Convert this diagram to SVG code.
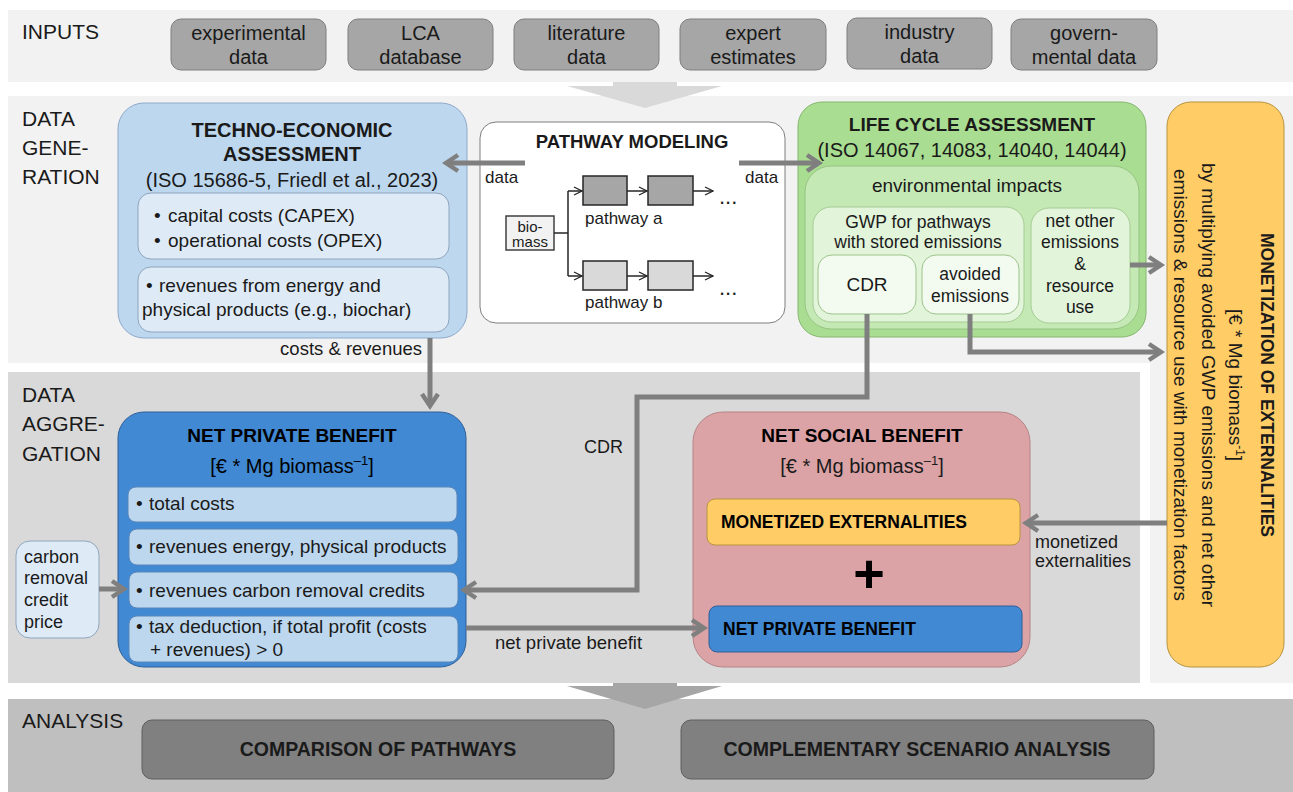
<svg xmlns="http://www.w3.org/2000/svg" width="1293" height="792" viewBox="0 0 1293 792">
<style>
text{font-family:"Liberation Sans",Arial,sans-serif;fill:#1a1a1a}
.sec{font-size:21px}
.inp{font-size:20px;text-anchor:middle}
.b{font-weight:bold}
.c{text-anchor:middle}
.conn{fill:none;stroke:#7f7f7f;stroke-width:5}
.thin{fill:none;stroke:#262626;stroke-width:1.5}
.ibox{fill:#a6a6a6;stroke:#7f7f7f;stroke-width:1}
.lbl{font-size:18px}
</style>
<defs>
<marker id="ah" viewBox="0 0 20 20" refX="14" refY="10" markerWidth="20" markerHeight="20" markerUnits="userSpaceOnUse" orient="auto">
<path d="M3,2 L15,10 L3,18" fill="none" stroke="#7f7f7f" stroke-width="4.5"/>
</marker>
<marker id="sm" viewBox="0 0 10 10" refX="9" refY="5" markerWidth="10" markerHeight="10" markerUnits="userSpaceOnUse" orient="auto">
<path d="M1,1 L9,5 L1,9" fill="none" stroke="#262626" stroke-width="1.3"/>
</marker>
</defs>

<g id="bands">
<rect x="8" y="10" width="1285" height="72" fill="#f2f2f2"/>
<rect x="8" y="96" width="1285" height="267" fill="#f2f2f2"/>
<rect x="1150" y="96" width="143" height="587" fill="#f2f2f2"/>
<rect x="8" y="372" width="1132" height="311" fill="#d9d9d9"/>
<rect x="8" y="699" width="1285" height="93" fill="#bfbfbf"/>
<polygon points="613,82 677,82 677,86 722,86 645,108 567,86 613,86" fill="#d9d9d9"/>
<polygon points="613,683 677,683 677,686 722,686 645,709 567,686 613,686" fill="#a6a6a6"/>
<text class="sec" x="22" y="39">INPUTS</text>
<text class="sec" x="22" y="126">DATA</text>
<text class="sec" x="22" y="155">GENE-</text>
<text class="sec" x="22" y="184">RATION</text>
<text class="sec" x="22" y="402">DATA</text>
<text class="sec" x="22" y="431">AGGRE-</text>
<text class="sec" x="22" y="461">GATION</text>
<text class="sec" x="22" y="728">ANALYSIS</text>
</g>

<g id="input-experimental">
<rect class="ibox" x="171" y="19" width="155" height="51" rx="10"/>
<text class="inp" x="248.5" y="40">experimental</text>
<text class="inp" x="248.5" y="64">data</text>
</g>
<g id="input-lca">
<rect class="ibox" x="348" y="19" width="145" height="51" rx="10"/>
<text class="inp" x="420.5" y="40">LCA</text>
<text class="inp" x="420.5" y="64">database</text>
</g>
<g id="input-literature">
<rect class="ibox" x="514" y="19" width="145" height="51" rx="10"/>
<text class="inp" x="586.5" y="40">literature</text>
<text class="inp" x="586.5" y="64">data</text>
</g>
<g id="input-expert">
<rect class="ibox" x="680" y="19" width="146" height="51" rx="10"/>
<text class="inp" x="753" y="40">expert</text>
<text class="inp" x="753" y="64">estimates</text>
</g>
<g id="input-industry">
<rect class="ibox" x="847" y="18" width="145" height="51" rx="10"/>
<text class="inp" x="919.5" y="39">industry</text>
<text class="inp" x="919.5" y="63">data</text>
</g>
<g id="input-governmental">
<rect class="ibox" x="1011" y="19" width="146" height="51" rx="10"/>
<text class="inp" x="1084" y="40">govern-</text>
<text class="inp" x="1084" y="64">mental data</text>
</g>

<g id="tea">
<rect x="118" y="103" width="349" height="235" rx="26" fill="#bdd7ee" stroke="#8eaacb"/>
<text class="b c" x="292" y="137" font-size="20">TECHNO-ECONOMIC</text>
<text class="b c" x="292" y="161" font-size="20">ASSESSMENT</text>
<text class="c" x="292" y="187" font-size="20">(ISO 15686-5, Friedl et al., 2023)</text>
<rect x="138" y="193" width="311" height="66" rx="13" fill="#deebf7" stroke="#8fa5bd"/>
<text x="154" y="222" font-size="19">•</text>
<text x="168" y="222" font-size="19">capital costs (CAPEX)</text>
<text x="154" y="247" font-size="19">•</text>
<text x="168" y="247" font-size="19">operational costs (OPEX)</text>
<rect x="138" y="267" width="311" height="65" rx="13" fill="#deebf7" stroke="#8fa5bd"/>
<text x="146" y="292" font-size="19">•</text>
<text x="159" y="292" font-size="19">revenues from energy and</text>
<text x="142" y="316" font-size="19">physical products (e.g., biochar)</text>
</g>

<g id="pathway-modeling">
<rect x="480" y="122" width="305" height="201" rx="16" fill="#ffffff" stroke="#7f7f7f"/>
<text class="b c" x="632" y="148" font-size="18.5">PATHWAY MODELING</text>
<rect x="506" y="216" width="48" height="34" fill="#f2f2f2" stroke="#404040" stroke-width="1.5"/>
<text class="c" x="530" y="232" font-size="15">bio-</text>
<text class="c" x="530" y="247" font-size="15">mass</text>
<path class="thin" d="M554,233 H568 M568,191 V276"/>
<path class="thin" d="M568,191 H582" marker-end="url(#sm)"/>
<path class="thin" d="M568,276 H582" marker-end="url(#sm)"/>
<rect x="583" y="176" width="44" height="29" fill="#a6a6a6" stroke="#262626" stroke-width="1.5"/>
<rect x="648" y="176" width="45" height="29" fill="#a6a6a6" stroke="#262626" stroke-width="1.5"/>
<path class="thin" d="M627,191 H647" marker-end="url(#sm)"/>
<path class="thin" d="M693,191 H713" marker-end="url(#sm)"/>
<text x="719" y="204" font-size="22">...</text>
<text x="585" y="224" font-size="17">pathway a</text>
<rect x="583" y="261" width="44" height="29" fill="#d9d9d9" stroke="#262626" stroke-width="1.5"/>
<rect x="648" y="261" width="45" height="29" fill="#d9d9d9" stroke="#262626" stroke-width="1.5"/>
<path class="thin" d="M627,276 H647" marker-end="url(#sm)"/>
<path class="thin" d="M693,276 H713" marker-end="url(#sm)"/>
<text x="719" y="295" font-size="22">...</text>
<text x="585" y="308" font-size="17">pathway b</text>
</g>

<g id="lca">
<rect x="798" y="102" width="348" height="235" rx="24" fill="#a9dd91" stroke="#86b870"/>
<text class="b c" x="972" y="131" font-size="19">LIFE CYCLE ASSESSMENT</text>
<text class="c" x="972" y="157" font-size="20">(ISO 14067, 14083, 14040, 14044)</text>
<rect x="805" y="166" width="334" height="163" rx="26" fill="#c5e9b5" stroke="#97c483"/>
<text class="c" x="967" y="192" font-size="19">environmental impacts</text>
<rect x="813" y="207" width="211" height="115" rx="18" fill="#e2f4da" stroke="#a5cc94"/>
<text class="c" x="918" y="228" font-size="17.5">GWP for pathways</text>
<text class="c" x="918" y="248" font-size="17.5">with stored emissions</text>
<rect x="818" y="255" width="98" height="59" rx="14" fill="#f3faf0" stroke="#9cc48a"/>
<text class="c" x="867" y="291" font-size="19">CDR</text>
<rect x="922" y="255" width="97" height="59" rx="14" fill="#f3faf0" stroke="#9cc48a"/>
<text class="c" x="970" y="280" font-size="17.5">avoided</text>
<text class="c" x="970" y="302" font-size="17.5">emissions</text>
<rect x="1031" y="208" width="99" height="115" rx="18" fill="#e2f4da" stroke="#a5cc94"/>
<text class="c" x="1080" y="227" font-size="17.5">net other</text>
<text class="c" x="1080" y="248" font-size="17.5">emissions</text>
<text class="c" x="1080" y="270" font-size="17.5">&amp;</text>
<text class="c" x="1080" y="292" font-size="17.5">resource</text>
<text class="c" x="1080" y="313" font-size="17.5">use</text>
</g>

<g id="monetization">
<rect x="1167" y="102" width="117" height="565" rx="24" fill="#ffcc66" stroke="#b8943f"/>
<text class="b c" font-size="17.5" transform="translate(1261,385) rotate(90)">MONETIZATION OF EXTERNALITIES</text>
<text class="c" font-size="19" transform="translate(1229,385) rotate(90)">[€ * Mg biomass<tspan dy="-7" font-size="12">-1</tspan><tspan dy="7">]</tspan></text>
<text class="c" font-size="19" transform="translate(1202,385) rotate(90)">by multiplying avoided GWP emissions and net other</text>
<text class="c" font-size="19" transform="translate(1174,385) rotate(90)">emissions &amp; resource use with monetization factors</text>
</g>

<g id="net-private-benefit">
<rect x="118" y="412" width="348" height="255" rx="26" fill="#4189d3" stroke="#2f5f99"/>
<text class="b c" x="292" y="442" font-size="19" style="fill:#000">NET PRIVATE BENEFIT</text>
<text class="c" x="292" y="473" font-size="20" style="fill:#000">[€ * Mg biomass<tspan dy="-8" font-size="13">–1</tspan><tspan dy="8">]</tspan></text>
<rect x="128" y="487" width="329" height="35" rx="8" fill="#bdd7ee" stroke="#5a86b8"/>
<text x="136" y="510" font-size="19">•</text>
<text x="149" y="510" font-size="19">total costs</text>
<rect x="129" y="529" width="329" height="36" rx="8" fill="#bdd7ee" stroke="#5a86b8"/>
<text x="136" y="553" font-size="19">•</text>
<text x="149" y="553" font-size="19">revenues energy, physical products</text>
<rect x="129" y="572" width="329" height="36" rx="8" fill="#bdd7ee" stroke="#5a86b8"/>
<text x="136" y="597" font-size="19">•</text>
<text x="149" y="597" font-size="19">revenues carbon removal credits</text>
<rect x="129" y="616" width="329" height="46" rx="8" fill="#bdd7ee" stroke="#5a86b8"/>
<text x="136" y="633" font-size="19">•</text>
<text x="149" y="633" font-size="19">tax deduction, if total profit (costs</text>
<text x="150" y="656" font-size="19">+ revenues) &gt; 0</text>
</g>

<g id="carbon-credit-price">
<rect x="16" y="541" width="83" height="97" rx="14" fill="#deebf7" stroke="#8fa5bd"/>
<text x="24" y="563" font-size="18">carbon</text>
<text x="24" y="584" font-size="18">removal</text>
<text x="24" y="606" font-size="18">credit</text>
<text x="24" y="628" font-size="18">price</text>
</g>

<g id="net-social-benefit">
<rect x="693" y="412" width="337" height="255" rx="30" fill="#dca3a6" stroke="#b58486"/>
<text class="b c" x="862" y="442" font-size="19" style="fill:#000">NET SOCIAL BENEFIT</text>
<text class="c" x="862" y="473" font-size="20">[€ * Mg biomass<tspan dy="-8" font-size="13">–1</tspan><tspan dy="8">]</tspan></text>
<rect x="707" y="499" width="313" height="46" rx="8" fill="#ffcc66" stroke="#b8943f"/>
<text class="b" x="721" y="528" font-size="17.5" style="fill:#000">MONETIZED EXTERNALITIES</text>
<text class="b c" x="869" y="592" font-size="54" style="fill:#000">+</text>
<rect x="709" y="606" width="313" height="46" rx="8" fill="#4189d3" stroke="#2f5f99"/>
<text class="b" x="723" y="635" font-size="17.5" style="fill:#000">NET PRIVATE BENEFIT</text>
</g>

<g id="comparison">
<rect x="142" y="720" width="472" height="59" rx="10" fill="#808080" stroke="#5e5e5e"/>
<text class="b c" x="378" y="756" font-size="19.5">COMPARISON OF PATHWAYS</text>
</g>
<g id="scenario">
<rect x="681" y="720" width="473" height="59" rx="10" fill="#808080" stroke="#5e5e5e"/>
<text class="b c" x="917" y="756" font-size="19.5">COMPLEMENTARY SCENARIO ANALYSIS</text>
</g>

<g id="connectors">
<path class="conn" d="M525,163 H447" marker-end="url(#ah)"/>
<text x="485" y="183" font-size="17">data</text>
<path class="conn" d="M739,163 H818" marker-end="url(#ah)"/>
<text x="745" y="183" font-size="17">data</text>
<path class="conn" d="M430,338 V405" marker-end="url(#ah)"/>
<text x="422" y="355" font-size="18.5" text-anchor="end">costs &amp; revenues</text>
<path class="conn" d="M867,314 V397 H637 V590 H465" marker-end="url(#ah)"/>
<text x="584" y="453" font-size="18">CDR</text>
<path class="conn" d="M970,314 V352 H1160" marker-end="url(#ah)"/>
<path class="conn" d="M1130,265 H1160" marker-end="url(#ah)"/>
<path class="conn" d="M99,589 H123" marker-end="url(#ah)"/>
<path class="conn" d="M466,628 H703" marker-end="url(#ah)"/>
<text x="495" y="649" font-size="18.5">net private benefit</text>
<path class="conn" d="M1167,523 H1027" marker-end="url(#ah)"/>
<text x="1035" y="548" font-size="18">monetized</text>
<text x="1035" y="567" font-size="18">externalities</text>
</g>
</svg>
